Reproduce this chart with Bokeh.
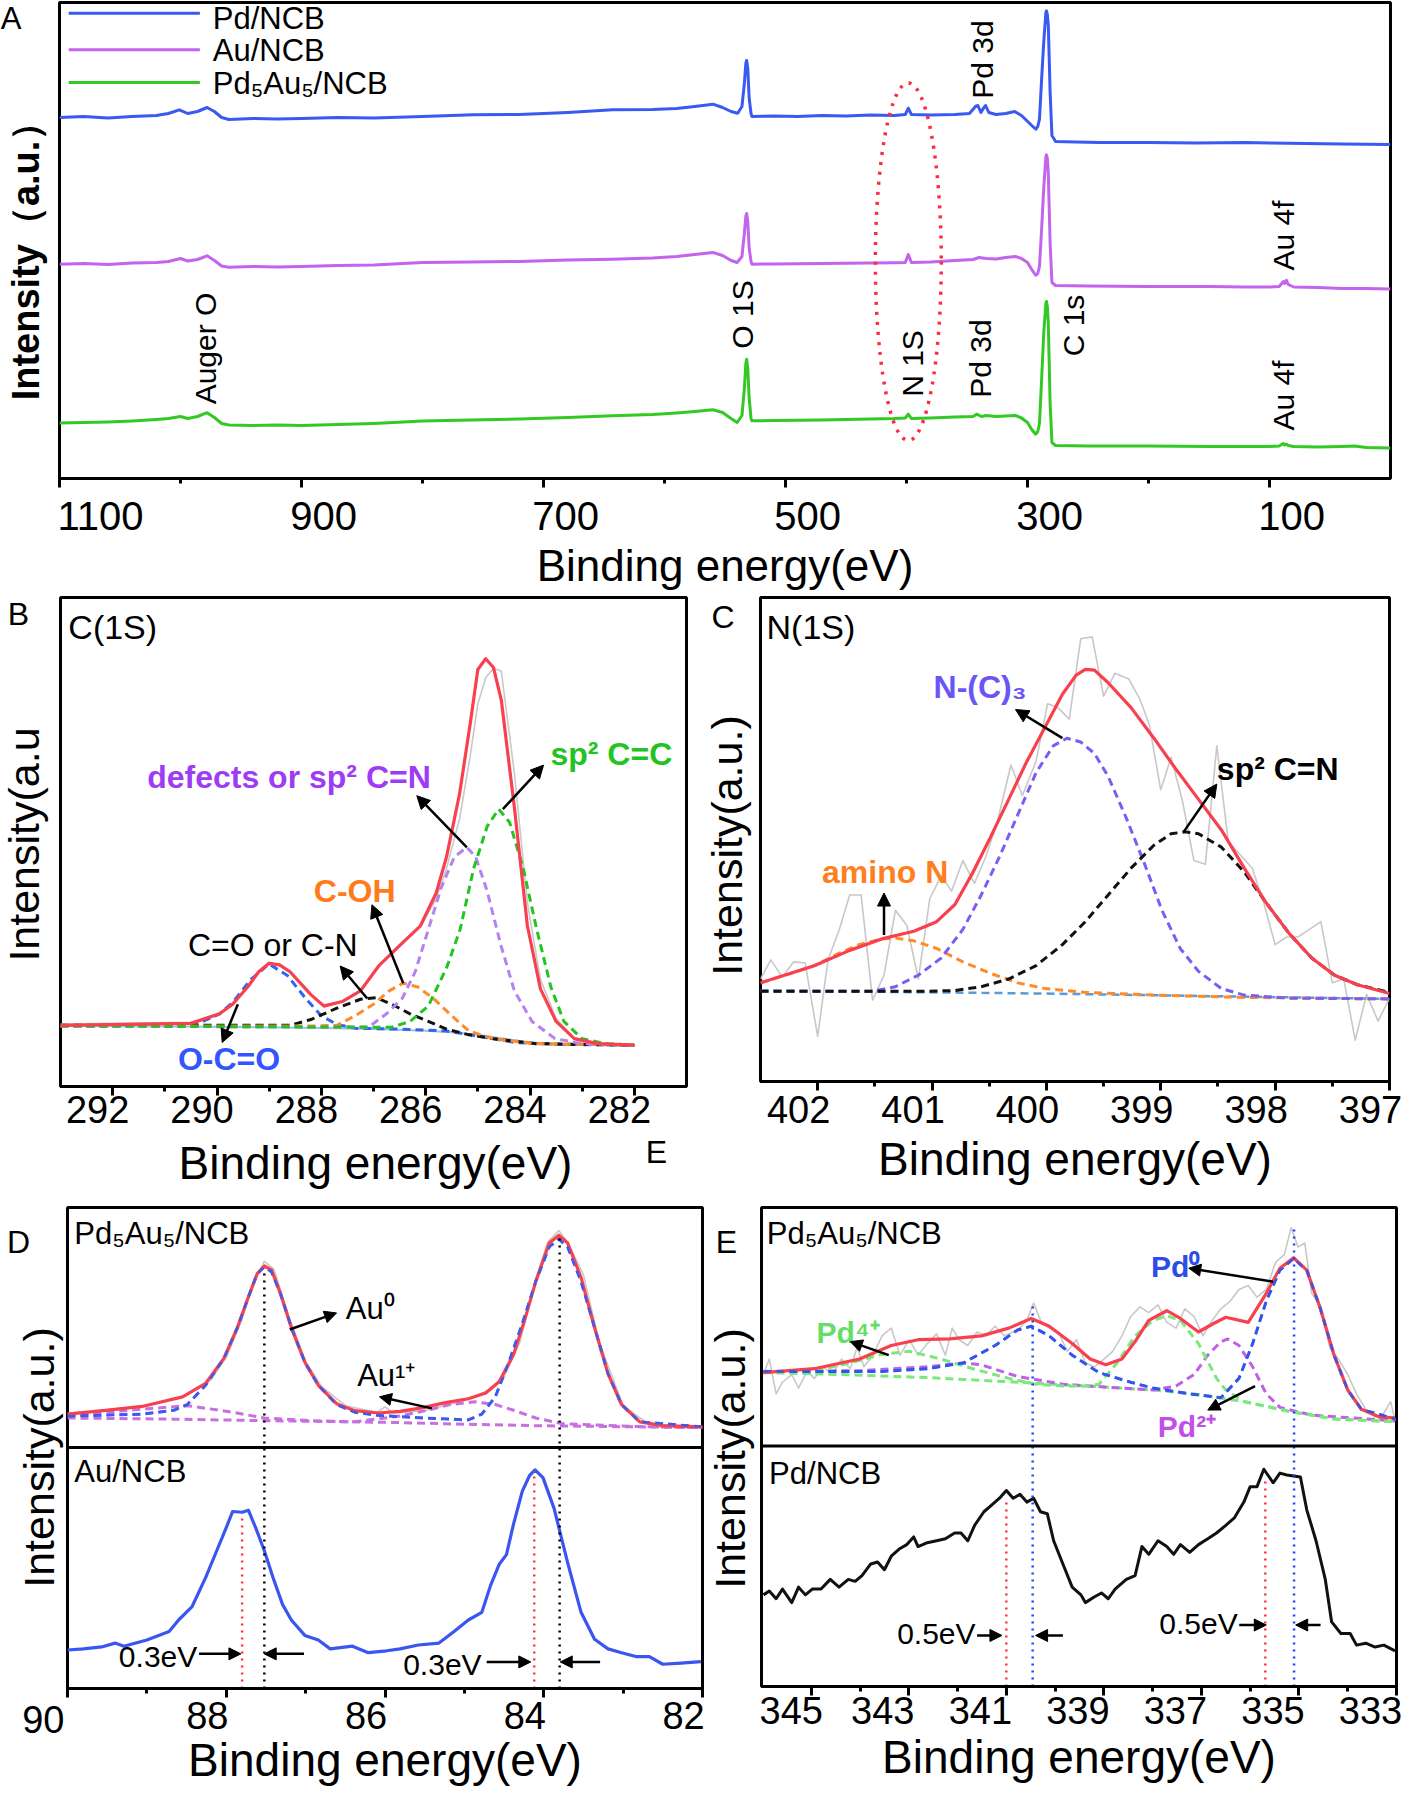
import math
from bokeh.plotting import figure
from bokeh.models import (Range1d, LinearAxis, FixedTicker, Arrow, NormalHead, Span,
                          CustomLabelingPolicy)
from bokeh.layouts import column, row
from bokeh.embed import file_html
from bokeh.resources import INLINE
from bokeh.core.properties import value

FONT = "Liberation Sans"

# ======================= DATA =======================
# ---- Panel A : XPS survey (binding energy eV, intensity a.u.) ----
A_pd_x = [1100, 1080, 1060, 1040, 1020, 1010, 1001, 994, 986, 978, 972, 966, 960, 940, 920, 900, 870, 840, 800, 758,
          720, 680, 643, 610, 590, 575, 560, 552, 545, 539.5, 536, 534, 532.8, 532.1, 531.2, 530, 528.5, 527.7, 510, 490,
          470, 450, 430, 410, 401, 398.5, 396, 380, 360, 348, 343, 341, 338.5, 336, 334.6, 332, 326, 318, 310.6, 305,
          300.5, 296.5, 293.1, 291.5, 290.1, 288.3, 286.6, 284.8, 284.3, 283.6, 282.8, 281.3, 279.8, 276.8, 260, 240,
          200, 160, 120, 100, 70, 40, 0]
A_pd_y = [361, 362, 360.5, 362, 363, 365, 368.7, 365, 367, 371, 367, 361, 359, 360, 359.5, 360, 361, 360.5, 362, 363.7,
          364, 366, 368.7, 369, 370, 372, 374.3, 371, 367, 365.3, 372, 395, 415, 418, 410, 380, 365, 362, 362.5, 362,
          363, 362.5, 363.5, 363, 364, 370.3, 364, 363.5, 364, 365, 372, 373, 366, 371, 373, 366, 364, 365, 367, 363,
          357.7, 353, 349.3, 352, 359.3, 400, 436, 466, 467.7, 464, 453, 386, 343, 337, 336.5, 336,
          336, 335.5, 336, 335.5, 335, 334.5, 334]
A_au_x = [1100, 1080, 1060, 1040, 1020, 1010, 1000, 994, 986, 978, 972, 966, 960, 940, 920, 900, 870, 840, 800, 760,
          720, 680, 643, 610, 590, 575, 560, 552, 545, 540, 536, 534, 532.8, 532.1, 531.2, 530, 528.5, 527.7, 510, 490,
          470, 450, 430, 410, 401, 398.5, 396, 380, 360, 345, 340, 334, 326, 318, 310, 305, 300, 296.5, 293.3, 291.5,
          290.1, 288.3, 286.6, 284.8, 284.3, 283.6, 282.8, 281.3, 279.8, 276.8, 250, 200, 150, 120, 100, 92, 88.5, 87.5,
          86, 84.5, 80, 60, 40, 20, 0]
A_au_y = [214.3, 215, 214, 215.5, 216, 217, 220, 217.5, 219, 222.7, 218, 212.5, 211.2, 212, 211.5, 212, 213, 213.5, 216,
          216.5, 217, 218.5, 219.3, 220.5, 222, 224, 226, 223, 218, 216, 222, 245, 262, 265, 257, 230, 217, 214.3, 214.5,
          214.8, 215, 215.3, 215.5, 215.8, 216, 224, 216, 216.5, 218, 219, 221, 220, 219.5, 221, 222, 220, 216, 209,
          203.3, 205, 212, 250, 290, 322, 323.7, 320, 305, 235, 196, 193, 192.5, 192, 192, 191.5, 191.5, 192, 197, 195,
          198.2, 194, 191.5, 191, 190, 190, 189.4]
A_pdau_x = [1100, 1080, 1060, 1040, 1020, 1010, 1000, 994, 986, 978, 972, 966, 960, 940, 920, 900, 870, 840, 800, 760,
            720, 680, 643, 610, 590, 575, 560, 552, 545, 540, 536, 534, 532.8, 532.1, 531.2, 530, 528.5, 527.7, 510, 490,
            470, 450, 430, 410, 401, 398.5, 396, 380, 360, 345, 342, 338, 334, 326, 318, 310, 305, 300, 296.5, 293.3,
            291.5, 290.1, 288.3, 286.6, 284.8, 284.3, 283.6, 282.8, 281.3, 279.8, 276.8, 250, 200, 150, 120, 100, 92,
            88.5, 87.5, 86, 84.5, 80, 60, 40, 30, 20, 0]
A_pdau_y = [55.5, 56, 56.5, 57.5, 59, 60, 62, 60, 62, 65.8, 61, 55, 53.5, 53, 53.5, 53, 54, 55, 57.4, 58.5,
            59.5, 61, 62.7, 64, 65.5, 67, 68.7, 66, 60, 56, 63, 90, 115, 119.3, 110, 80, 60, 57.7, 58, 58.3,
            58.5, 59, 59.5, 60, 60.5, 64.3, 60, 60.5, 61.5, 62, 64.3, 62, 63, 62, 62.5, 63, 60.5, 56, 49, 44.3,
            47, 55, 100, 145, 175, 177, 172, 155, 75, 36, 33, 32.5, 32.5, 32, 32, 32, 32.5,
            35, 33.5, 34.4, 33, 32, 31.5, 32, 32.5, 31, 30.5]
A_names = ["Pd/NCB", "Au/NCB", "Pd₅Au₅/NCB"]
A_colors = ["#3a58f2", "#c264ee", "#34c824"]
A_ann_text = ["Pd 3d", "O 1S", "N 1S", "Pd 3d", "C 1s", "Auger O", "Au 4f", "Au 4f"]
A_ann_x = [337.4, 535.4, 394.9, 338.7, 262.1, 979.6, 88.3, 88.3]
A_ann_y = [419, 164, 115, 120, 153, 130, 243, 83]
A_ticks = [1100, 900, 700, 500, 300, 100]
A_minor = [1000, 800, 600, 400, 200]

# ---- Panel B : C 1s ----
B_raw_x = [293.0, 290.5, 289.95, 289.7, 289.4, 289.2, 289.0, 288.8, 288.6, 288.2, 287.95, 287.6, 287.25, 286.9, 286.6,
           286.45, 286.1, 285.8, 285.6, 285.35, 285.15, 285.0, 284.85, 284.7, 284.55, 284.3, 284.05, 283.8, 283.5,
           283.15, 282.7, 282.0]
B_raw_y = [163, 168, 192, 218, 265, 302, 325, 316, 298, 238, 214, 220, 252, 318, 352, 378, 418, 490, 570, 700, 860,
           1000, 1068, 1093, 1085, 820, 480, 280, 178, 125, 112, 108]
B_fit_x = [293.0, 290.5, 289.95, 289.7, 289.4, 289.2, 289.0, 288.8, 288.6, 288.2, 287.95, 287.6, 287.25, 286.9, 286.5,
           286.1, 285.8, 285.6, 285.35, 285.15, 285.0, 284.85, 284.7, 284.55, 284.3, 284.05, 283.8, 283.5, 283.15,
           282.7, 282.0]
B_fit_y = [160, 165, 190, 215, 262, 300, 322, 318, 300, 240, 210, 222, 250, 315, 368, 420, 505, 600, 765, 945, 1090,
           1118, 1095, 1010, 730, 420, 255, 170, 125, 112, 108]
B_bg_x = [293.0, 290.0, 288.0, 287.0, 286.0, 285.5, 285.0, 284.5, 284.0, 283.5, 282.0]
B_bg_y = [158, 156, 153, 150, 146, 142, 135, 125, 115, 110, 108]
B_oco_x = [293.0, 290.4, 289.95, 289.7, 289.35, 289.0, 288.65, 288.3, 288.0, 287.7, 287.35, 286.5, 285.6, 285.15,
           284.7, 284.3, 283.4, 282.0]
B_oco_y = [158, 162, 190, 220, 280, 320, 290, 230, 185, 162, 152, 150, 145, 135, 125, 115, 110, 108]
B_con_x = [293.0, 288.6, 288.2, 287.7, 287.25, 286.95, 286.65, 286.3, 285.95, 285.6, 285.17, 284.7, 283.9, 282.0]
B_con_y = [160, 160, 175, 205, 228, 232, 215, 190, 170, 150, 135, 125, 112, 108]
B_coh_x = [293.0, 288.2, 287.7, 287.35, 287.0, 286.7, 286.43, 286.15, 285.85, 285.5, 285.17, 284.7, 283.9, 282.0]
B_coh_y = [158, 158, 160, 185, 215, 250, 270, 260, 230, 185, 145, 125, 112, 108]
B_def_x = [293.0, 287.1, 286.75, 286.45, 286.2, 285.95, 285.7, 285.45, 285.21, 285.04, 284.82, 284.56, 284.3, 283.96,
           283.52, 283.0, 282.0]
B_def_y = [158, 155, 190, 230, 300, 410, 520, 600, 625, 600, 510, 370, 250, 170, 125, 112, 108]
B_cc_x = [293.0, 286.65, 286.3, 285.95, 285.6, 285.34, 285.08, 284.82, 284.6, 284.39, 284.13, 283.87, 283.6, 283.35,
          283.0, 282.56, 282.0]
B_cc_y = [158, 155, 170, 210, 310, 410, 570, 680, 725, 690, 570, 410, 260, 170, 125, 112, 108]
B_lbl_text = ["defects or sp² C=N", "sp² C=C", "C-OH", "C=O or C-N", "O-C=O"]
B_lbl_x = [288.62, 282.44, 287.36, 288.93, 289.77]
B_lbl_y = [808, 870, 510, 370, 72]
B_lbl_color = ["#9e3cf5", "#22c322", "#ff7a1a", "#000000", "#3355ff"]
B_lbl_style = ["bold", "bold", "bold", "normal", "bold"]
B_arr = [(285.21, 625, 286.17, 760), (284.52, 725, 283.74, 840), (286.43, 270, 287.03, 475),
         (287.12, 230, 287.64, 315), (289.6, 215, 289.9, 115)]
B_ticks = [292, 290, 288, 286, 284, 282]
B_minor = [291, 289, 287, 285, 283]

# ---- Panel C : N 1s ----
C_raw_x = [402.5, 402.41, 402.31, 402.21, 402.11, 402.0, 401.91, 401.81, 401.72, 401.62, 401.52, 401.42, 401.32,
           401.22, 401.12, 401.02, 400.92, 400.83, 400.73, 400.63, 400.53, 400.43, 400.31, 400.21, 400.09, 399.99,
           399.9, 399.8, 399.7, 399.6, 399.5, 399.4, 399.28, 399.18, 399.1, 399.0, 398.91, 398.81, 398.71, 398.61,
           398.51, 398.41, 398.29, 398.2, 398.1, 398.0, 397.9, 397.8, 397.7, 397.6, 397.5, 397.4, 397.3, 397.2,
           397.1, 397.0]
C_raw_y = [268, 318, 273, 313, 310, 118, 318, 398, 488, 488, 213, 278, 448, 408, 268, 478, 538, 498, 578, 518,
           588, 678, 828, 748, 838, 988, 978, 948, 1158, 1163, 1008, 1068, 1053, 998, 933, 763, 848, 733, 578, 568,
           878, 628, 588, 558, 468, 358, 378, 378, 398, 418, 258, 268, 108, 228, 158, 218]
C_fit_x = [402.5, 402.03, 401.72, 401.44, 401.16, 400.96, 400.8, 400.65, 400.49, 400.33, 400.17, 400.01, 399.86,
           399.74, 399.66, 399.58, 399.46, 399.26, 399.06, 398.87, 398.67, 398.47, 398.27, 398.08, 397.88, 397.68,
           397.48, 397.28, 397.0]
C_fit_y = [258, 303, 343, 373, 393, 418, 463, 543, 638, 738, 838, 928, 1013, 1063, 1078, 1076, 1043, 978, 898, 818,
           738, 658, 558, 468, 388, 323, 278, 253, 230]
C_bg_x = [402.5, 400.0, 397.0]
C_bg_y = [238, 230, 216]
C_amino_x = [402.5, 402.23, 402.03, 401.83, 401.64, 401.44, 401.32, 401.16, 400.96, 400.73, 400.49, 400.25, 400.01,
             399.66, 399.06, 398.27, 397.0]
C_amino_y = [258, 283, 303, 333, 358, 373, 375, 368, 348, 313, 283, 258, 243, 233, 226, 220, 216]
C_nc3_x = [402.5, 401.52, 401.32, 401.12, 400.92, 400.73, 400.57, 400.41, 400.25, 400.09, 399.94, 399.82, 399.7,
           399.58, 399.46, 399.3, 399.14, 398.99, 398.83, 398.67, 398.47, 398.27, 397.88, 397.0]
C_nc3_y = [236, 236, 248, 278, 323, 398, 488, 588, 698, 808, 878, 898, 888, 858, 798, 688, 568, 448, 348, 288, 243,
           226, 218, 216]
C_cn_x = [402.5, 401.04, 400.8, 400.57, 400.33, 400.09, 399.86, 399.66, 399.46, 399.26, 399.06, 398.91, 398.79,
          398.67, 398.47, 398.27, 398.08, 397.88, 397.68, 397.48, 397.28, 397.0]
C_cn_y = [236, 236, 238, 248, 268, 303, 358, 418, 488, 558, 618, 648, 653, 648, 613, 548, 468, 388, 323, 278, 253, 233]
C_lbl_text = ["N-(C)₃", "sp² C=N", "amino N"]
C_lbl_x = [400.58, 397.977, 401.41]
C_lbl_y = [1033, 818, 548]
C_lbl_color = ["#6a55f5", "#000000", "#ff7f1e"]
C_arr = [(399.86, 898, 400.27, 973), (398.80, 653, 398.51, 778), (401.42, 383, 401.42, 493)]
C_ticks = [402, 401, 400, 399, 398, 397]
C_minor = [401.5, 400.5, 399.5, 398.5, 397.5]

# ---- Panel D : Au 4f ----
D_raw_x = [90.0, 89.5, 89.0, 88.5, 88.2, 88.0, 87.8, 87.65, 87.52, 87.4, 87.2, 87.0, 86.8, 86.5, 86.1, 86.0, 85.9,
           85.5, 85.0, 84.7, 84.5, 84.3, 84.1, 83.95, 83.81, 83.7, 83.5, 83.3, 83.0, 82.7, 82.3, 82.0]
D_raw_y = [715, 724, 735, 762, 800, 860, 960, 1060, 1110, 1090, 960, 850, 785, 735, 718, 732, 716, 722, 748, 775,
           810, 900, 1065, 1160, 1190, 1160, 1075, 900, 735, 690, 682, 680]
D_fit_x = [90.0, 89.52, 89.06, 88.55, 88.26, 88.03, 87.86, 87.72, 87.61, 87.52, 87.43, 87.32, 87.18, 87.01, 86.84,
           86.61, 86.38, 86.09, 85.81, 85.52, 85.24, 84.95, 84.73, 84.56, 84.38, 84.24, 84.10, 83.93, 83.81, 83.70,
           83.53, 83.36, 83.19, 83.02, 82.79, 82.50, 82.0]
D_fit_y = [713, 723, 733, 758, 793, 858, 938, 1018, 1078, 1098, 1088, 1028, 938, 848, 788, 740, 722, 716, 720, 730,
           743, 753, 768, 798, 868, 958, 1058, 1158, 1178, 1158, 1068, 938, 818, 738, 693, 683, 680]
D_au0_x = [90.0, 89.06, 88.66, 88.49, 88.26, 88.03, 87.86, 87.72, 87.61, 87.52, 87.43, 87.32, 87.18, 87.01, 86.84,
           86.61, 86.38, 86.09, 85.52, 84.95, 84.78, 84.61, 84.44, 84.27, 84.10, 83.93, 83.81, 83.70, 83.53, 83.36,
           83.19, 83.02, 82.79, 82.0]
D_au0_y = [708, 713, 723, 738, 788, 858, 938, 1018, 1078, 1096, 1083, 1028, 938, 848, 788, 738, 718, 710, 703, 698,
           713, 758, 848, 948, 1058, 1148, 1168, 1148, 1058, 938, 818, 738, 693, 680]
D_au1a_x = [90.0, 89.23, 88.49, 87.98, 87.52, 86.95, 86.38, 85.81, 85.24, 84.10, 82.0]
D_au1a_y = [710, 723, 735, 720, 703, 696, 693, 691, 688, 683, 678]
D_au1b_x = [90.0, 88.66, 87.52, 86.38, 85.81, 85.47, 85.18, 84.87, 84.61, 84.38, 84.10, 83.76, 82.84, 82.0]
D_au1b_y = [703, 700, 696, 693, 708, 723, 738, 745, 738, 723, 703, 688, 681, 678]
D_au_x = [90.0, 89.80, 89.57, 89.40, 89.29, 89.0, 88.72, 88.60, 88.43, 88.26, 88.12, 88.0, 87.92, 87.80, 87.72, 87.63,
          87.52, 87.41, 87.29, 87.18, 87.01, 86.84, 86.69, 86.41, 86.21, 85.98, 85.81, 85.58, 85.32, 85.13, 84.95,
          84.78, 84.67, 84.56, 84.47, 84.38, 84.27, 84.18, 84.11, 84.01, 83.87, 83.70, 83.53, 83.36, 83.19, 83.02,
          82.84, 82.67, 82.50, 82.27, 82.02]
D_au_y = [100, 103, 108, 118, 110, 126, 148, 178, 213, 288, 358, 418, 460, 458, 463, 418, 358, 288, 218, 178, 138, 126,
          103, 110, 93, 98, 103, 113, 118, 148, 178, 198, 268, 323, 348, 428, 513, 553, 568, 548, 468, 328, 198, 128,
          103, 93, 83, 83, 63, 66, 70]
D_vl_x = [87.52, 83.8, 87.8, 84.12]
D_vl_top = [1090, 1170, 455, 565]
D_vl_color = ["#000000", "#000000", "#ff3040", "#ff3040"]
D_ticks = [90, 88, 86, 84, 82]
D_minor = [89, 87, 85, 83]

# ---- Panel E : Pd 3d ----
E_raw_x = [345.98, 345.86, 345.72, 345.59, 345.4, 345.26, 345.08, 344.94, 344.75, 344.57, 344.38, 344.2, 344.06,
           343.92, 343.73, 343.55, 343.36, 343.18, 342.99, 342.81, 342.62, 342.43, 342.25, 342.11, 341.97, 341.79,
           341.6, 341.42, 341.23, 341.04, 340.77, 340.58, 340.44, 340.3, 340.12, 339.93, 339.75, 339.56, 339.38,
           339.19, 339.0, 338.82, 338.63, 338.45, 338.26, 338.08, 337.89, 337.71, 337.52, 337.34, 337.15, 336.97,
           336.78, 336.6, 336.41, 336.23, 336.04, 335.86, 335.67, 335.48, 335.3, 335.16, 335.02, 334.88, 334.74,
           334.56, 334.37, 334.19, 334.0, 333.82, 333.63, 333.44, 333.26, 333.12, 333.03]
E_raw_y = [807, 847, 757, 787, 807, 772, 817, 797, 827, 807, 847, 822, 877, 827, 857, 907, 927, 857, 897, 857,
           887, 912, 857, 927, 897, 882, 917, 907, 932, 907, 922, 947, 992, 947, 927, 917, 867, 897, 837, 827,
           847, 867, 907, 957, 982, 967, 987, 942, 927, 977, 957, 907, 947, 977, 997, 1027, 1037, 1007, 1027, 1097,
           1117, 1187, 1137, 1147, 1017, 987, 877, 847, 807, 757, 717, 697, 707, 737, 687]
E_fit_x = [345.98, 344.94, 344.01, 343.36, 342.81, 342.16, 341.51, 340.95, 340.49, 340.12, 339.65, 339.28, 338.96,
           338.63, 338.36, 338.08, 337.71, 337.43, 337.06, 336.78, 336.5, 336.04, 335.67, 335.39, 335.11, 334.84,
           334.56, 334.28, 334.0, 333.72, 333.35, 333.03]
E_fit_y = [812, 822, 847, 882, 897, 899, 907, 927, 952, 932, 887, 847, 832, 847, 892, 947, 972, 952, 917, 937, 955,
           942, 1017, 1082, 1109, 1077, 977, 857, 767, 717, 697, 695]
E_pd0_x = [345.98, 343.55, 342.62, 341.88, 341.23, 340.77, 340.49, 340.12, 339.65, 339.10, 338.45, 337.99, 337.24,
           336.6, 336.23, 335.95, 335.67, 335.39, 335.11, 334.84, 334.56, 334.28, 334.0, 333.72, 333.03]
E_pd0_y = [815, 815, 822, 837, 882, 922, 932, 907, 857, 812, 787, 772, 757, 747, 797, 887, 997, 1077, 1107, 1077, 977,
           857, 767, 717, 692]
E_pd4_x = [345.98, 344.94, 344.2, 343.55, 342.99, 342.34, 341.69, 340.95, 340.40, 339.84, 339.38, 339.10, 338.73,
           338.36, 337.99, 337.71, 337.43, 337.06, 336.69, 336.5, 336.13, 335.21, 334.28, 333.03]
E_pd4_y = [812, 817, 837, 859, 867, 847, 822, 797, 782, 777, 777, 782, 837, 907, 947, 959, 947, 887, 797, 767, 737,
           712, 692, 685]
E_pd2_x = [345.98, 343.96, 342.62, 341.88, 341.51, 340.77, 339.84, 338.91, 337.99, 337.52, 337.15, 336.87, 336.6,
           336.46, 336.23, 335.95, 335.67, 335.39, 334.74, 333.03]
E_pd2_y = [815, 817, 827, 837, 832, 802, 782, 774, 767, 777, 807, 857, 892, 899, 882, 827, 757, 722, 702, 687]
E_bg_x = [345.98, 344.43, 342.62, 340.77, 338.91, 337.99, 337.06, 336.13, 335.21, 334.28, 333.03]
E_bg_y = [812, 807, 799, 787, 774, 767, 755, 737, 712, 692, 685]
E_pd_x = [345.98, 345.86, 345.72, 345.59, 345.4, 345.26, 345.12, 344.98, 344.8, 344.61, 344.43, 344.24, 344.1, 343.96,
          343.78, 343.64, 343.5, 343.36, 343.18, 343.04, 342.9, 342.81, 342.62, 342.43, 342.25, 342.06, 341.93,
          341.79, 341.65, 341.46, 341.32, 341.14, 341.0, 340.86, 340.72, 340.58, 340.44, 340.3, 340.16, 340.03,
          339.84, 339.65, 339.47, 339.38, 339.19, 339.05, 338.91, 338.77, 338.54, 338.36, 338.22, 338.08, 337.89,
          337.71, 337.57, 337.43, 337.24, 337.06, 336.87, 336.69, 336.5, 336.32, 336.13, 336.0, 335.86, 335.72,
          335.53, 335.39, 335.25, 334.97, 334.84, 334.65, 334.46, 334.33, 334.14, 333.95, 333.82, 333.63, 333.44,
          333.26, 333.03]
E_pd_y = [237, 247, 227, 252, 217, 257, 237, 252, 252, 277, 257, 277, 272, 287, 317, 322, 302, 337, 357, 367, 387, 362,
          372, 377, 382, 397, 397, 377, 417, 452, 467, 487, 507, 487, 497, 477, 487, 452, 447, 377, 317, 257, 237, 217,
          232, 242, 227, 252, 277, 287, 362, 342, 377, 362, 342, 367, 347, 367, 382, 397, 417, 437, 477, 517, 517, 562,
          527, 552, 547, 542, 457, 377, 277, 167, 137, 137, 107, 112, 102, 107, 92]
E_vl_x = [340.46, 335.1, 341.0, 335.69]
E_vl_top = [985, 1185, 487, 537]
E_vl_color = ["#2040ff", "#2040ff", "#ff3040", "#ff3040"]
E_ticks = [345, 343, 341, 339, 337, 335, 333]
E_minor = [344, 342, 340, 338, 336, 334]

XLABEL = "Binding energy(eV)"

# ======================= HELPERS =======================
HIDE_LABELS = CustomLabelingPolicy(code="""
try { for (const i of indices) { indices.unset(i) } } catch (e) {}
return indices
""")


def panel(xr, yr, fw, fh, bl, br, bt, bb, major, minor, shift, tick_fs, lab_fs, s1, s2, xlabel=XLABEL):
    p = figure(x_range=Range1d(xr[0], xr[1]), y_range=Range1d(yr[0], yr[1]),
               frame_width=fw, frame_height=fh, min_border_left=bl, min_border_right=br,
               min_border_top=bt, min_border_bottom=bb, output_backend="svg",
               toolbar_location=None, y_axis_location=None,
               background_fill_color="white", border_fill_color="white")
    p.xgrid.visible = False
    p.ygrid.visible = False
    p.outline_line_color = "black"
    p.outline_line_width = 3
    p.outline_line_alpha = 1.0
    ax = p.xaxis[0]                       # tick marks at the true positions
    ax.ticker = FixedTicker(ticks=major, minor_ticks=minor)
    ax.major_label_policy = HIDE_LABELS
    ax.major_label_text_font_size = "0px"
    ax.major_label_standoff = 0
    ax.axis_line_width = 3
    ax.major_tick_line_width = 3
    ax.minor_tick_line_width = 3
    ax.major_tick_out = 9
    ax.major_tick_in = 0
    ax.minor_tick_out = 5
    ax.minor_tick_in = 0
    # tick labels (drawn slightly offset from the ticks, as in the original figure)
    p.extra_x_ranges = {"lab": Range1d(xr[0] + shift, xr[1] + shift)}
    lab = LinearAxis(x_range_name="lab", ticker=FixedTicker(ticks=major),
                     axis_line_color=None, major_tick_line_color=None, minor_tick_line_color=None,
                     major_tick_out=0, major_tick_in=0, minor_tick_out=0, minor_tick_in=0,
                     major_label_standoff=s1, major_label_text_font=FONT,
                     major_label_text_font_size=f"{tick_fs}px", major_label_text_color="black",
                     axis_label=xlabel, axis_label_text_font=FONT,
                     axis_label_text_font_size=f"{lab_fs}px", axis_label_text_font_style="normal",
                     axis_label_standoff=s2, axis_label_text_color="black")
    p.add_layout(lab, "below")
    return p


def strip(w, h):
    s = figure(x_range=Range1d(0, w), y_range=Range1d(0, h), frame_width=w, frame_height=h,
               min_border=0, output_backend="svg", toolbar_location=None,
               x_axis_location=None, y_axis_location=None,
               background_fill_color="white", border_fill_color="white")
    s.xgrid.visible = False
    s.ygrid.visible = False
    s.outline_line_color = None
    return s


def txt(p, xs, ys, texts, size, color="black", style="normal", align="center", angle=0.0):
    p.text(x=xs, y=ys, text=texts, text_font=value(FONT), text_font_size=value(f"{size}px"),
           text_color=color, text_font_style=style, text_align=align, text_baseline="middle",
           angle=angle)


def arrows(p, lst, size=13, width=2.5):
    for (a, b, c, d) in lst:
        p.add_layout(Arrow(end=NormalHead(size=size, fill_color="black", line_color="black", line_width=1),
                           x_start=a, y_start=b, x_end=c, y_end=d, line_color="black", line_width=width))


def dashed(p, x, y, color, width=3, dash="8 5"):
    p.line(x, y, line_color=color, line_width=width, line_dash=dash, line_join="round")


def solid(p, x, y, color, width=3):
    p.line(x, y, line_color=color, line_width=width, line_join="round")


V = math.pi / 2

# ======================= PANEL A =======================
sA = strip(57, 593)
txt(sA, [10.5], [577], ["A"], 31)
txt(sA, [25], [344], ["Intensity（a.u.）"], 38, style="bold", angle=V)

pA = panel((1100, 0), (0, 476), 1331, 476, 2, 12, 2, 115, A_ticks, A_minor, 18.2, 40, 44, 14, 8)
for xs, ys, c in ((A_pd_x, A_pd_y, A_colors[0]), (A_au_x, A_au_y, A_colors[1]), (A_pdau_x, A_pdau_y, A_colors[2])):
    solid(pA, xs, ys, c, 3)
pA.ellipse(x=[398.5], y=[216.8], width=[54.5], height=[358], fill_color=None,
           line_color="#ff2a3a", line_width=3.5, line_dash="3 7")
pA.segment(x0=[1092.4] * 3, y0=[465.3, 428.7, 396], x1=[984] * 3, y1=[465.3, 428.7, 396],
           line_color=A_colors, line_width=3)
txt(pA, [973.3] * 3, [460, 428.5, 395], A_names, 31, align="left")
txt(pA, A_ann_x, A_ann_y, A_ann_text, 30, angle=V)

# ======================= PANEL B =======================
sB = strip(58, 604)
txt(sB, [18], [588], ["B"], 32)
txt(sB, [23], [357], ["Intensity(a.u"], 43, angle=V)

pB = panel((293, 281), (0, 1278), 626, 489, 2, 11, 4, 45, B_ticks, B_minor, -0.2875, 38, 46, 0, 0, xlabel="")
solid(pB, B_raw_x, B_raw_y, "#c8c8c8", 1.6)
solid(pB, B_bg_x, B_bg_y, "#9ec3dc", 2)
dashed(pB, B_oco_x, B_oco_y, "#3366ee")
dashed(pB, B_con_x, B_con_y, "#111111")
dashed(pB, B_coh_x, B_coh_y, "#ff8a2a")
dashed(pB, B_def_x, B_def_y, "#b384f0")
dashed(pB, B_cc_x, B_cc_y, "#22c422")
solid(pB, B_fit_x, B_fit_y, "#f8404f", 3.2)
for t, x, y, c, s in zip(B_lbl_text, B_lbl_x, B_lbl_y, B_lbl_color, B_lbl_style):
    txt(pB, [x], [y], [t], 32, color=c, style=s)
txt(pB, [292.85], [1200], ["C(1S)"], 34, align="left")
arrows(pB, B_arr)

sBB = strip(639, 66)            # x-axis title row of panel B (with the stray "E" of the original)
txt(sBB, [315], [35], [XLABEL], 46)
txt(sBB, [596], [46], ["E"], 32)

# ======================= PANEL C =======================
sC = strip(61, 604)
txt(sC, [25.5], [585], ["C"], 32)
txt(sC, [29.5], [356], ["Intensity(a.u.)"], 43, angle=V)

pC = panel((402.5, 397), (0, 1266), 629, 484, 2, 13, 4, 116, C_ticks, C_minor, -0.166, 38, 46, 5, 7)
solid(pC, C_raw_x, C_raw_y, "#c8c8c8", 1.6)
dashed(pC, C_bg_x, C_bg_y, "#5b9bd5", 2.5)
dashed(pC, C_amino_x, C_amino_y, "#ff8a2a")
dashed(pC, C_nc3_x, C_nc3_y, "#7b5cf5")
dashed(pC, C_cn_x, C_cn_y, "#111111")
solid(pC, C_fit_x, C_fit_y, "#f8404f", 3.2)
for t, x, y, c in zip(C_lbl_text, C_lbl_x, C_lbl_y, C_lbl_color):
    txt(pC, [x], [y], [t], 32, color=c, style="bold")
txt(pC, [402.447], [1188], ["N(1S)"], 34, align="left")
arrows(pC, C_arr)

# ======================= PANEL D =======================
sD = strip(65, 594)
txt(sD, [18], [560], ["D"], 32)
txt(sD, [38], [344], ["Intensity(a.u.)"], 43, angle=V)
txt(sD, [64], [82], ["90"], 38, align="right")

pD = panel((90, 82), (0, 1250), 635, 481, 2, 3, 10, 103, D_ticks, D_minor, -0.239, 38, 46, 4, 2)
solid(pD, D_raw_x, D_raw_y, "#c8c8c8", 1.6)
dashed(pD, D_au1a_x, D_au1a_y, "#c870e0")
dashed(pD, D_au1b_x, D_au1b_y, "#c870e0")
dashed(pD, D_au0_x, D_au0_y, "#3b5bf0")
solid(pD, D_fit_x, D_fit_y, "#f8404f", 3.2)
dashed(pD, D_au0_x, D_au0_y, "#3b5bf0", 2.2, "7 6")
solid(pD, D_au_x, D_au_y, "#3b55f0", 3.2)
pD.segment(x0=D_vl_x, y0=[0] * 4, x1=D_vl_x, y1=D_vl_top, line_color=D_vl_color, line_width=2.5, line_dash="2 5")
pD.add_layout(Span(location=626, dimension="width", line_color="black", line_width=3))
txt(pD, [89.914], [1183], ["Pd₅Au₅/NCB"], 31, align="left")
txt(pD, [89.914], [563], ["Au/NCB"], 31, align="left")
txt(pD, [86.494], [988], ["Au⁰"], 31, align="left")
txt(pD, [86.351], [813], ["Au¹⁺"], 31, align="left")
txt(pD, [88.859, 85.277], [82, 62], ["0.3eV", "0.3eV"], 30)
arrows(pD, [(87.20, 933, 86.61, 976), (85.41, 728, 86.07, 758),
            (88.343, 90, 87.815, 90), (87.02, 90, 87.522, 90),
            (84.719, 69, 84.163, 69), (83.29, 69, 83.792, 69)], size=12)

# ======================= PANEL E =======================
sE = strip(54, 594)
txt(sE, [21], [560], ["E"], 32)
txt(sE, [24], [343], ["Intensity(a.u.)"], 43, angle=V)

pE = panel((346.02, 333.0), (0, 1239), 635, 479, 2, 6, 10, 105, E_ticks, E_minor, -0.533, 38, 46, 1, 4)
solid(pE, E_raw_x, E_raw_y, "#c8c8c8", 1.6)
dashed(pE, E_bg_x, E_bg_y, "#7ae87a")
dashed(pE, E_pd2_x, E_pd2_y, "#c060e8")
dashed(pE, E_pd4_x, E_pd4_y, "#7ae87a")
dashed(pE, E_pd0_x, E_pd0_y, "#3355ee")
solid(pE, E_fit_x, E_fit_y, "#f8404f", 3.2)
dashed(pE, E_pd0_x, E_pd0_y, "#3355ee", 2.2, "7 6")
solid(pE, E_pd_x, E_pd_y, "#111111", 3)
pE.segment(x0=E_vl_x, y0=[0] * 4, x1=E_vl_x, y1=E_vl_top, line_color=E_vl_color, line_width=2.5, line_dash="2 5")
pE.add_layout(Span(location=622, dimension="width", line_color="black", line_width=3))
txt(pE, [345.91], [1172], ["Pd₅Au₅/NCB"], 31, align="left")
txt(pE, [345.864], [552], ["Pd/NCB"], 31, align="left")
txt(pE, [338.032], [1087], ["Pd⁰"], 30, color="#2d4de8", style="bold", align="left")
txt(pE, [344.89], [915], ["Pd⁴⁺"], 30, color="#66dd66", style="bold", align="left")
txt(pE, [337.893], [672], ["Pd²⁺"], 30, color="#c050e8", style="bold", align="left")
txt(pE, [342.435, 337.06], [137, 162], ["0.5eV", "0.5eV"], 30)
arrows(pE, [(335.53, 1047, 337.26, 1082), (343.41, 857, 344.2, 892), (335.9, 777, 336.87, 715),
            (341.6, 132, 341.09, 132), (339.84, 132, 340.4, 132),
            (336.225, 159, 335.67, 159), (334.557, 159, 335.067, 159)], size=12)

layout = column(row(sA, pA),
                row(sB, column(pB, sBB), sC, pC),
                row(sD, pD, sE, pE))
open("out.html", "w").write(file_html(layout, INLINE))
